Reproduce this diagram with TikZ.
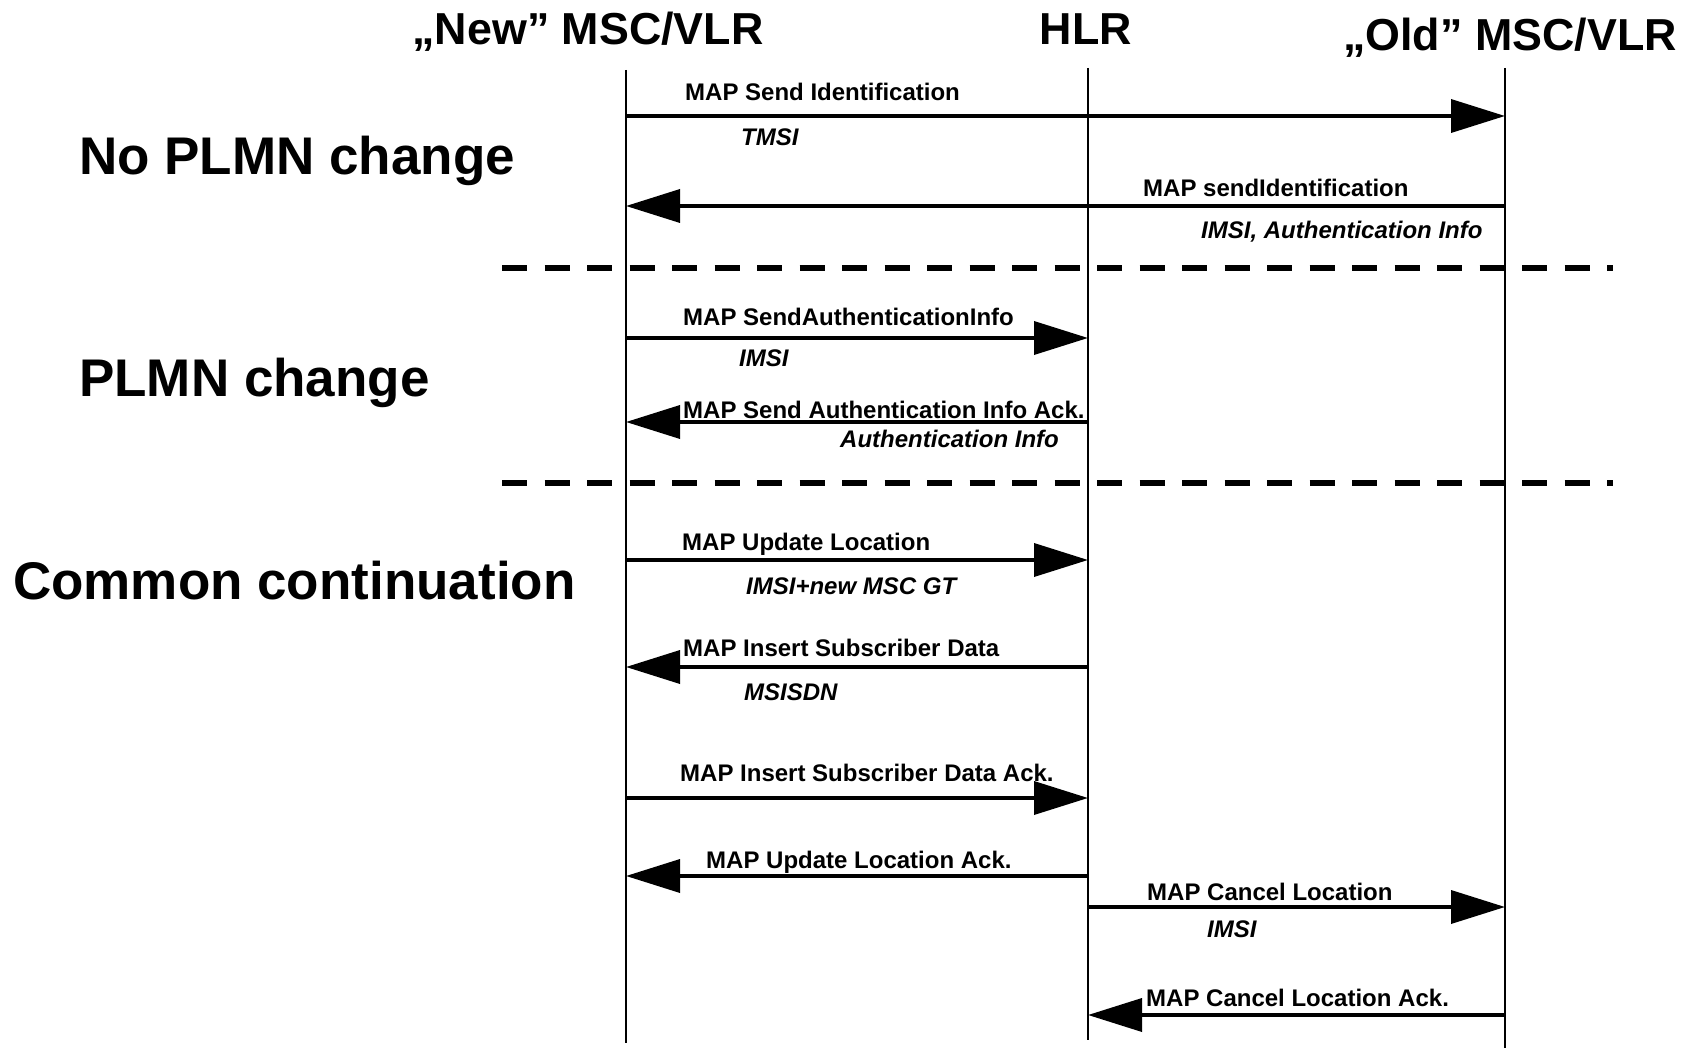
\documentclass[tikz,border=0pt]{standalone}
\usepackage{fontspec}
\setmainfont{Liberation Sans}
\usetikzlibrary{arrows.meta}

\begin{document}
\begin{tikzpicture}[x=1pt,y=-1pt,
  lifeline/.style={line width=2.6pt},
  msg/.style={line width=3.6pt, -{Triangle[length=54pt,width=33pt]}},
  sep/.style={line width=6pt, dash pattern=on 25pt off 17.5pt},
  actor/.style={font=\fontsize{44.8}{50}\selectfont\bfseries, anchor=base, inner sep=0pt},
  phase/.style={font=\fontsize{53}{60}\selectfont\bfseries, anchor=base west, inner sep=0pt},
  lbl/.style={font=\fontsize{24}{28}\selectfont\bfseries, anchor=base west, inner sep=0pt},
  param/.style={font=\fontsize{24}{28}\selectfont\bfseries\itshape, anchor=base west, inner sep=0pt}]

\useasboundingbox (0,0) rectangle (1698,1048);

% participants
\node[actor] (newmsc) at (588,45) {„New” MSC/VLR};
\node[actor] (hlr)    at (1086,45) {HLR};
\node[actor] (oldmsc) at (1510,51) {„Old” MSC/VLR};

% lifelines
\coordinate (newT) at (626,70);  \coordinate (newB) at (626,1043);
\coordinate (hlrT) at (1088,68); \coordinate (hlrB) at (1088,1040);
\coordinate (oldT) at (1505,68); \coordinate (oldB) at (1505,1048);
\draw[lifeline] (newT) -- (newB);
\draw[lifeline] (hlrT) -- (hlrB);
\draw[lifeline] (oldT) -- (oldB);

% phase titles
\node[phase] (ph1) at (79,175) {No PLMN change};
\node[phase] (ph2) at (79,397) {PLMN change};
\node[phase] (ph3) at (13,599) {Common continuation};

% phase separators
\coordinate (s1a) at (502,268); \coordinate (s1b) at (1613,268);
\coordinate (s2a) at (502,483); \coordinate (s2b) at (1613,483);
\draw[sep] (s1a) -- (s1b);
\draw[sep] (s2a) -- (s2b);

% no PLMN change
\draw[msg] (newT |- 0,116) -- (oldT |- 0,116);
\node[lbl]   (l1) at (685,101) {MAP Send Identification};
\node[param] (p1) at (741,146) {TMSI};

\draw[msg] (oldT |- 0,206) -- (newT |- 0,206);
\node[lbl]   (l2) at (1143,197) {MAP sendIdentification};
\node[param] (p2) at (1201,239) {IMSI, Authentication Info};

% PLMN change
\draw[msg] (newT |- 0,338) -- (hlrT |- 0,338);
\node[lbl]   (l3) at (683,326) {MAP SendAuthenticationInfo};
\node[param] (p3) at (739,367) {IMSI};

\draw[msg] (hlrT |- 0,422) -- (newT |- 0,422);
\node[lbl]   (l4) at (683,419) {MAP Send Authentication Info Ack.};
\node[param] (p4) at (840,448) {Authentication Info};

% common continuation
\draw[msg] (newT |- 0,560) -- (hlrT |- 0,560);
\node[lbl]   (l5) at (682,550) {MAP Update Location};
\node[param] (p5) at (746,594) {IMSI+new MSC GT};

\draw[msg] (hlrT |- 0,667) -- (newT |- 0,667);
\node[lbl]   (l6) at (683,656) {MAP Insert Subscriber Data};
\node[param] (p6) at (744,700) {MSISDN};

\draw[msg] (newT |- 0,798) -- (hlrT |- 0,798);
\node[lbl]   (l7) at (680,781) {MAP Insert Subscriber Data Ack.};

\draw[msg] (hlrT |- 0,876) -- (newT |- 0,876);
\node[lbl]   (l8) at (706,868) {MAP Update Location Ack.};

\draw[msg] (hlrT |- 0,907) -- (oldT |- 0,907);
\node[lbl]   (l9) at (1147,900) {MAP Cancel Location};
\node[param] (p9) at (1207,937) {IMSI};

\draw[msg] (oldT |- 0,1015) -- (hlrT |- 0,1015);
\node[lbl]   (l10) at (1146,1006) {MAP Cancel Location Ack.};
\end{tikzpicture}
\end{document}
